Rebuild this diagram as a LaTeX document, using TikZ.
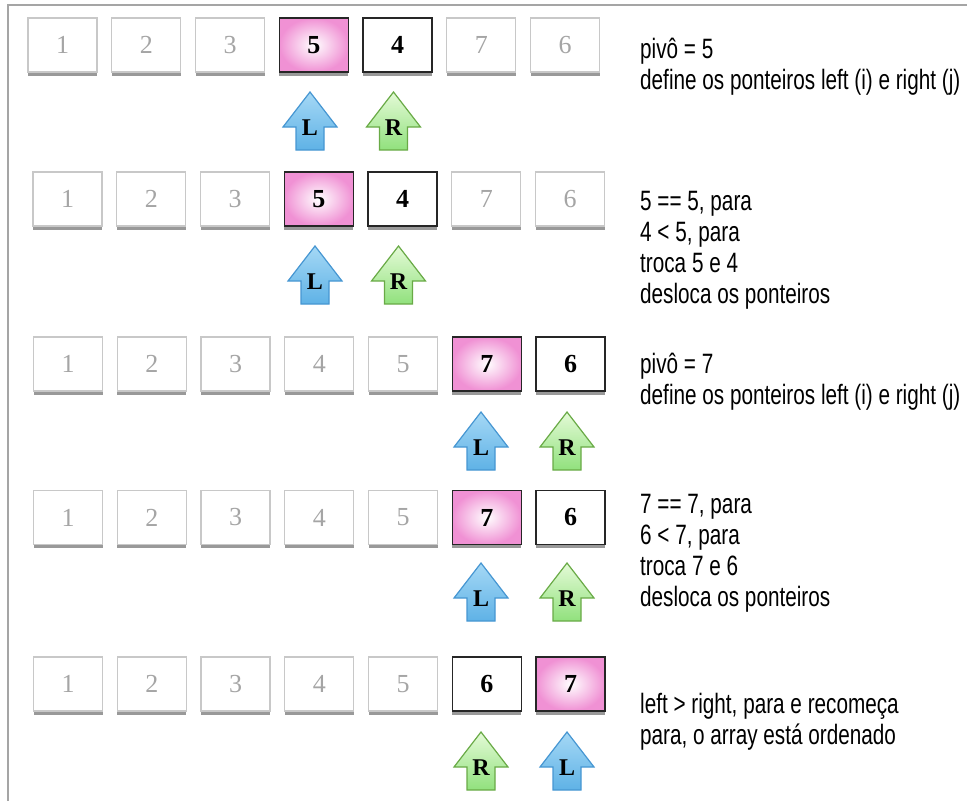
\documentclass[tikz,border=0pt]{standalone}
\usepackage{fontspec}
\setmainfont{Liberation Serif}
\newfontfamily\cond{Liberation Sans}[FakeStretch=0.74]
\usetikzlibrary{shadows}
\definecolor{pinkout}{RGB}{240,145,212}
\definecolor{fadeline}{RGB}{200,200,200}
\definecolor{fadetext}{RGB}{165,165,165}
\definecolor{bluetop}{RGB}{165,216,245}
\definecolor{bluebot}{RGB}{95,178,230}
\definecolor{blueline}{RGB}{70,150,210}
\definecolor{greentop}{RGB}{228,250,215}
\definecolor{greenbot}{RGB}{145,225,125}
\definecolor{greenline}{RGB}{105,170,70}
\definecolor{framec}{RGB}{165,165,165}
\newcommand\ptrarrow[5]{%
  \draw[#4] (#2,#3) -- ++(27,35) -- ++(-13,0) -- ++(0,23) -- ++(-28,0) -- ++(0,-23) -- ++(-13,0) -- cycle;
  \node[ptrlabel] (#1) at (#2,#3+36) {#5};
}
\begin{document}
\begin{tikzpicture}[x=1pt,y=-1pt,
  cellbase/.style={minimum width=69pt, minimum height=54pt, inner sep=0pt, line width=1.3pt,
    drop shadow={shadow xshift=0pt, shadow yshift=-3.5pt, opacity=0.4, fill=black}},
  fadecell/.style={cellbase, draw=fadeline, fill=white, text=fadetext, font=\fontsize{26}{26}\selectfont},
  actcell/.style={cellbase, draw=black!85, fill=white, font=\fontsize{26}{26}\selectfont\bfseries},
  pivcell/.style={cellbase, draw=black!85, shading=radial, inner color=white, outer color=pinkout, font=\fontsize{26}{26}\selectfont\bfseries},
  blueptr/.style={draw=blueline, line width=1.2pt, top color=bluetop, bottom color=bluebot, line join=miter},
  greenptr/.style={draw=greenline, line width=1.2pt, top color=greentop, bottom color=greenbot, line join=miter},
  ptrlabel/.style={inner sep=0pt, font=\fontsize{24}{24}\selectfont\bfseries},
  txt/.style={inner sep=0pt, anchor=base west, font=\cond\fontsize{28}{31}\selectfont},
]
\useasboundingbox (0,0) rectangle (967,801);
\draw[framec, line width=1.5pt] (8,801) -- (8,5) -- (967,5);

% row 1
\foreach \c/\v in {1/1,2/2,3/3,6/7,7/6} \node[fadecell] (r1c\c) at ({62.5+83.75*(\c-1)},45) {\v};
\node[pivcell] (r1c4) at ({62.5+83.75*3},45) {5};
\node[actcell] (r1c5) at ({62.5+83.75*4},45) {4};
\ptrarrow{r1L}{310}{92}{blueptr}{L}
\ptrarrow{r1R}{393.5}{92}{greenptr}{R}
\node[txt] (t1) at (640,58) {\begin{tabular}[t]{@{}l@{}}pivô = 5\\define os ponteiros left (i) e right (j)\end{tabular}};

% row 2
\foreach \c/\v in {1/1,2/2,3/3,6/7,7/6} \node[fadecell] (r2c\c) at ({67.5+83.75*(\c-1)},199) {\v};
\node[pivcell] (r2c4) at ({67.5+83.75*3},199) {5};
\node[actcell] (r2c5) at ({67.5+83.75*4},199) {4};
\ptrarrow{r2L}{315}{246}{blueptr}{L}
\ptrarrow{r2R}{398.5}{246}{greenptr}{R}
\node[txt] (t2) at (640,210) {\begin{tabular}[t]{@{}l@{}}5 == 5, para\\4 < 5, para\\troca 5 e 4\\desloca os ponteiros\end{tabular}};

% row 3
\foreach \c/\v in {1/1,2/2,3/3,4/4,5/5} \node[fadecell] (r3c\c) at ({68+83.75*(\c-1)},364) {\v};
\node[pivcell] (r3c6) at ({68+83.75*5},364) {7};
\node[actcell] (r3c7) at ({68+83.75*6},364) {6};
\ptrarrow{r3L}{481}{412}{blueptr}{L}
\ptrarrow{r3R}{567}{412}{greenptr}{R}
\node[txt] (t3) at (640,373) {\begin{tabular}[t]{@{}l@{}}pivô = 7\\define os ponteiros left (i) e right (j)\end{tabular}};

% row 4
\foreach \c/\v in {1/1,2/2,3/3,4/4,5/5} \node[fadecell] (r4c\c) at ({68+83.75*(\c-1)},517.5) {\v};
\node[pivcell] (r4c6) at ({68+83.75*5},517.5) {7};
\node[actcell] (r4c7) at ({68+83.75*6},517.5) {6};
\ptrarrow{r4L}{481}{563}{blueptr}{L}
\ptrarrow{r4R}{567}{563}{greenptr}{R}
\node[txt] (t4) at (640,513) {\begin{tabular}[t]{@{}l@{}}7 == 7, para\\6 < 7, para\\troca 7 e 6\\desloca os ponteiros\end{tabular}};

% row 5
\foreach \c/\v in {1/1,2/2,3/3,4/4,5/5} \node[fadecell] (r5c\c) at ({68+83.75*(\c-1)},684) {\v};
\node[actcell] (r5c6) at ({68+83.75*5},684) {6};
\node[pivcell] (r5c7) at ({68+83.75*6},684) {7};
\ptrarrow{r5R}{481}{732}{greenptr}{R}
\ptrarrow{r5L}{567}{732}{blueptr}{L}
\node[txt] (t5) at (640,713) {\begin{tabular}[t]{@{}l@{}}left > right, para e recomeça\\para, o array está ordenado\end{tabular}};
\end{tikzpicture}
\end{document}
